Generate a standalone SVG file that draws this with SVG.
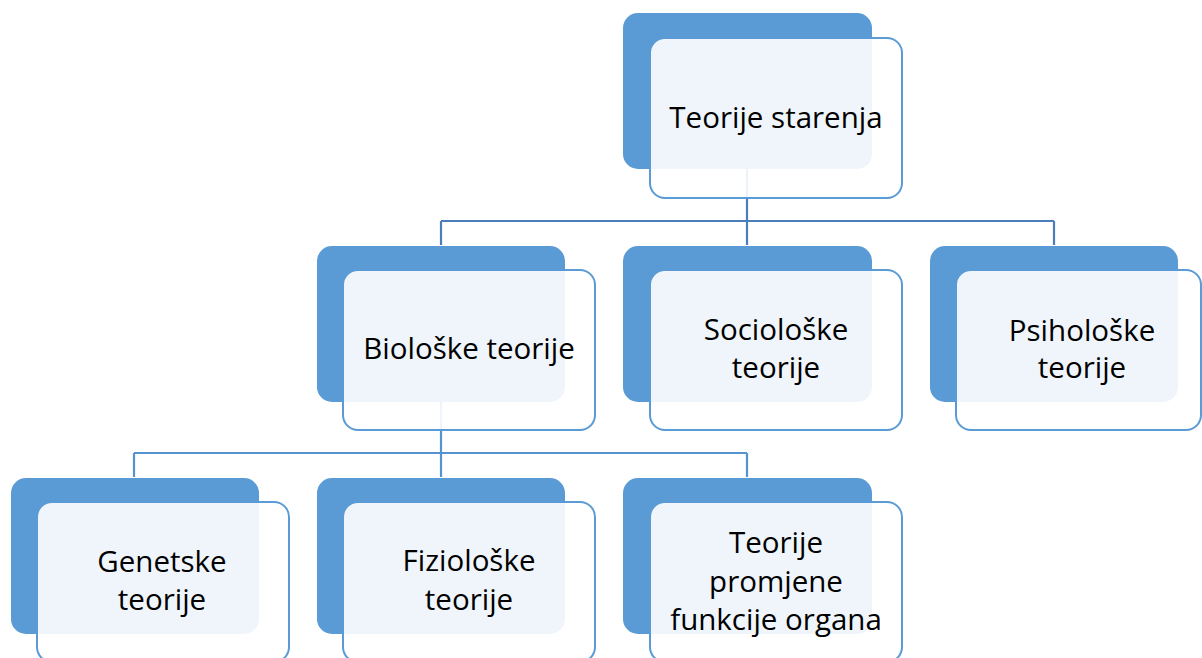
<svg xmlns="http://www.w3.org/2000/svg" width="1202" height="658" viewBox="0 0 1202 658">
<style>
.back{fill:#5B9BD5;}
.front{fill:#FFFFFF;fill-opacity:0.9;stroke:#5B9BD5;stroke-width:2;}
.lbl{font-family:"Open Sans","Liberation Sans",sans-serif;font-size:29.5px;fill:#000000;text-anchor:middle;}
.c1{fill:none;stroke:#4A7EBB;stroke-width:2.2;}
.c2{fill:none;stroke:#5593D0;stroke-width:2.2;}
</style>
<rect width="1202" height="658" fill="#FFFFFF"/>
<g id="connectors">
<path class="c1" d="M747,169 V221 M441,221 H1054 M441,221 V245 M747,221 V245 M1054,221 V245"/>
<path class="c2" d="M441,402 V453 M134,453 H747 M134,453 V477 M441,453 V477 M747,453 V477"/>
</g>
<g id="n-root">
<rect class="back" x="623" y="13" width="249" height="156" rx="15"/>
<rect class="front" x="650" y="38" width="252" height="160" rx="15"/>
<text class="lbl" x="776" y="128">Teorije starenja</text>
</g>
<g id="n-bio">
<rect class="back" x="317" y="246" width="248" height="156" rx="15"/>
<rect class="front" x="343" y="270" width="252" height="160" rx="15"/>
<text class="lbl" x="469" y="359">Biološke teorije</text>
</g>
<g id="n-socio">
<rect class="back" x="623" y="246" width="249" height="156" rx="15"/>
<rect class="front" x="650" y="270" width="252" height="160" rx="15"/>
<text class="lbl" x="776" y="340">Sociološke</text>
<text class="lbl" x="776" y="378">teorije</text>
</g>
<g id="n-psiho">
<rect class="back" x="930" y="246" width="248" height="156" rx="15"/>
<rect class="front" x="956" y="270" width="245" height="160" rx="15"/>
<text class="lbl" x="1082" y="341">Psihološke</text>
<text class="lbl" x="1082" y="378">teorije</text>
</g>
<g id="n-gen">
<rect class="back" x="11" y="478" width="248" height="156" rx="15"/>
<rect class="front" x="37" y="502" width="252" height="160" rx="15"/>
<text class="lbl" x="162" y="572">Genetske</text>
<text class="lbl" x="162" y="610">teorije</text>
</g>
<g id="n-fiz">
<rect class="back" x="317" y="478" width="248" height="156" rx="15"/>
<rect class="front" x="343" y="502" width="252" height="160" rx="15"/>
<text class="lbl" x="469" y="571">Fiziološke</text>
<text class="lbl" x="469" y="610">teorije</text>
</g>
<g id="n-org">
<rect class="back" x="623" y="478" width="249" height="156" rx="15"/>
<rect class="front" x="650" y="502" width="252" height="160" rx="15"/>
<text class="lbl" x="776" y="553">Teorije</text>
<text class="lbl" x="776" y="592">promjene</text>
<text class="lbl" x="776" y="630">funkcije organa</text>
</g>
</svg>
